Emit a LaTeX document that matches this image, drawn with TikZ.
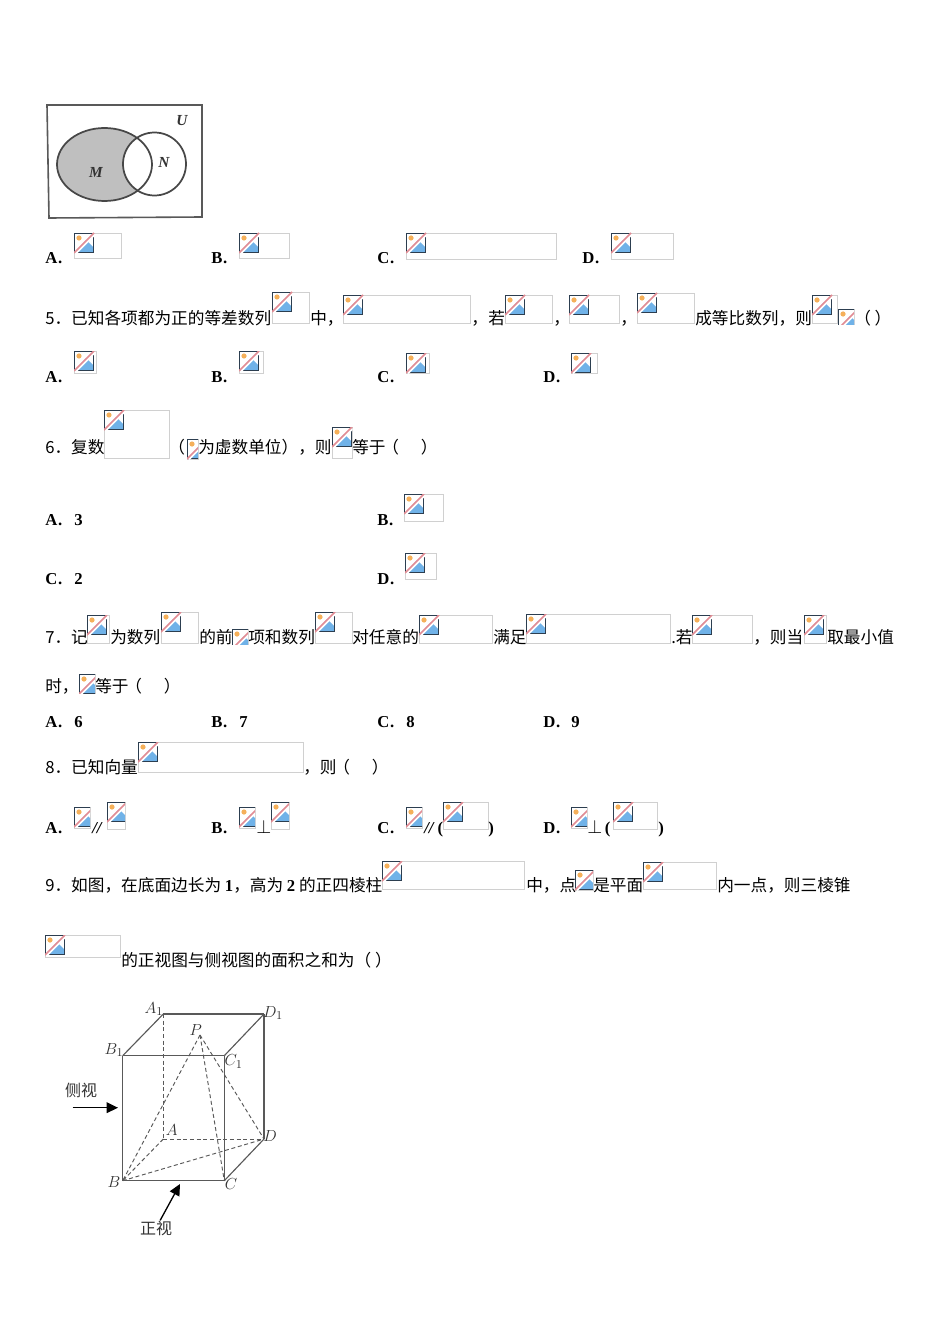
\documentclass[tikz,border=0pt]{standalone}
\usepackage{fontspec}
\setmainfont{Liberation Serif}
\newfontfamily\cjk{Noto Sans CJK SC}
\usetikzlibrary{arrows.meta}
\definecolor{iconframe}{RGB}{44,62,80}
\definecolor{iconblue}{RGB}{112,178,232}
\definecolor{iconsun}{RGB}{245,176,90}
\definecolor{iconred}{RGB}{226,140,148}
\definecolor{imgborder}{RGB}{208,208,208}
\newcommand{\numb}[1]{{\rmfamily\bfseries #1}}
\newcommand{\kuo}{{\kern-2.5pt（　\kern 4pt）}}
\newcommand{\brokenimg}[4]{
	\draw[imgborder,line width=0.7pt] (#1,#2) rectangle (#3,#4);
	\begin{scope}
		\clip (#1,#2) rectangle (#3,#4);
		\begin{scope}[shift={(#1,#2)}]
			\fill[white] (0,0) rectangle (20,20);
			\fill[iconblue] (1,19) -- (12,7) -- (19,14) -- (19,19) -- cycle;
			\fill[iconsun] (5,5) circle (2.6);
			\draw[iconframe,line width=1pt] (0.7,0.7) rectangle (19.3,19.3);
			\draw[white,line width=2.2pt] (1.5,20) -- (20,1.5);
			\draw[iconred,line width=1.3pt] (0,20) -- (20,0);
		\end{scope}
	\end{scope}
}
\tikzset{
	sentence/.style={anchor=base west,inner sep=0pt,font=\cjk\fontsize{12.5}{15}\selectfont},
	choice/.style={anchor=base west,inner sep=0pt,font=\rmfamily\bfseries\fontsize{12.5}{15}\selectfont},
	scanlabel/.style={inner sep=0pt,text=black!80,font=\bfseries\itshape\fontsize{11.5}{13}\selectfont},
	cubelabel/.style={inner sep=0pt,text=black!80,font=\fontsize{12.5}{14}\selectfont},
	scanword/.style={inner sep=0pt,text=black!80,font=\cjk\fontsize{12}{14}\selectfont},
	solidedge/.style={draw=black!65,line width=0.85pt},
	hiddenedge/.style={draw=black!65,line width=0.7pt,dash pattern=on 3pt off 2pt},
	viewarrow/.style={draw=black,line width=1pt,-{Triangle[length=8.5pt,width=8pt]}}
}
\begin{document}
\begin{tikzpicture}[x=0.75pt,y=-0.75pt]
	\useasboundingbox (0,0) rectangle (950,1344);
	\fill[white] (0,0) rectangle (950,1344);
	\foreach \xa/\ya/\xb/\yb in {
		74/233/121.5/258,239/233/289.5/258,406/233/556.5/259,611/233/673.5/259,
		272/292/309.5/323,343/295/470.5/323,505/295/552.5/323,569/295/619.5/323,637/293/694.5/323,812/295/837/323,838/309/854/324,
		74/351/96/373,239/351/263/373,406/353/429/373,571/353/597/373,
		104/410/169/458,187/439/198/459,332/427/352.5/458,
		404/494/443.5/521,405/553/436.5/579,
		87/615/109.5/643,161/612/198.5/643,232/629/248/644,315/612/352/643,419/615/492.5/643,526/614/670.5/643,692/615/752.5/643,804/615/826.5/643,
		79/674/95/693,
		138/742/303/772,
		74/807/90/828,107/802/125/829,239/807/255/828,271/802/289/829,406/807/422/828,443/802/488/829,571/807/587/828,613/802/657/829,
		382/861/524/889,575/870/593/890,643/862/716/889,
		45/935/120.5/957
	}{\brokenimg{\xa}{\ya}{\xb}{\yb}}
	\foreach \x/\y/\t [count=\i] in {
		45/324.5/{5．已知各项都为正的等差数列},310/324.5/{中，},471/324.5/{，},488/324.5/{若},553/324.5/{，},620/324.5/{，},695/324.5/{成等比数列，则},854/324.5/{（ ）},
		45/453.5/{6．复数},168/453.5/{（},198/453.5/{为虚数单位），则},352/453.5/{等于\kuo},
		45/643.5/{7．记},110/643.5/{为数列},199/643.5/{的前},248/643.5/{项和数列},352/643.5/{对任意的},493/643.5/{满足},671/643.5/{.若},753/643.5/{，则当},827/643.5/{取最小值},
		45/692.5/{时，},95/692.5/{等于\kuo},
		45/773.5/{8．已知向量},303/773.5/{，则\kuo},
		45/891.5/{9．如图，在底面边长为 \numb{1}，高为 \numb{2} 的正四棱柱},526/891.5/{中，点},593/891.5/{是平面},717/891.5/{内一点，则三棱锥},
		121/966.5/{的正视图与侧视图的面积之和为（ ）}
	}{\node[sentence] (line\i) at (\x,\y) {\t};}
	\foreach \x/\y/\t [count=\i] in {
		45/264/{A\kern.6pt.},211/264/{B\kern.6pt.},377/264/{C\kern.6pt.},582/264/{D\kern.6pt.},
		45/382/{A\kern.6pt.},211/382/{B\kern.6pt.},377/382/{C\kern.6pt.},543/382/{D\kern.6pt.},
		45/525/{A\kern.6pt.},74/525/{3},377/525/{B\kern.6pt.},45/584/{C\kern.6pt.},74/584/{2},377/584/{D\kern.6pt.},
		45/727/{A\kern.6pt.},74/727/{6},211/727/{B\kern.6pt.},239/727/{7},377/727/{C\kern.6pt.},406/727/{8},543/727/{D\kern.6pt.},571/727/{9},
		45/833/{A\kern.6pt.},92/833/{\textit{//}},211/833/{B\kern.6pt.},256/833/{{\Large$\perp$}},377/833/{C\kern.6pt.},424/833/{\textit{//}\,(},488/833/{)},543/833/{D\kern.6pt.},587/833/{{\Large$\perp$}\,(},658/833/{)}
	}{\node[choice] (opt\i) at (\x,\y) {\t};}

	\coordinate (ucorner1) at (47,105);
	\coordinate (ucorner2) at (202,105);
	\coordinate (ucorner3) at (202,217);
	\coordinate (ucorner4) at (49,218);
	\draw[black!65,line width=1.2pt] (ucorner1) -- (ucorner2) -- (ucorner3) -- (ucorner4) -- cycle;
	\fill[black!25] (104.5,164.5) ellipse (47.5 and 36.5);
	\fill[white] (154.5,164) circle (31.5);
	\draw[black!72,line width=1.3pt] (104.5,164.5) ellipse (47.5 and 36.5);
	\draw[black!72,line width=1.3pt] (154.5,164) circle (31.5);
	\node[scanlabel] (setU) at (182,121) {U};
	\node[scanlabel] (setN) at (164,162) {N};
	\node[scanlabel] (setM) at (96,172) {M};

	\coordinate (A1) at (163.3,1014);
	\coordinate (D1) at (264,1014);
	\coordinate (B1) at (122.7,1055.7);
	\coordinate (C1) at (224.3,1055.7);
	\coordinate (A) at (163.3,1139);
	\coordinate (D) at (264,1139);
	\coordinate (B) at (122.7,1180.7);
	\coordinate (C) at (224.3,1180.7);
	\coordinate (P) at (200,1035);
	\draw[solidedge] (A1) -- (D1);
	\draw[solidedge] (A1) -- (B1);
	\draw[solidedge] (B1) -- (C1);
	\draw[solidedge] (C1) -- (D1);
	\draw[solidedge] (B1) -- (B);
	\draw[solidedge] (C1) -- (C);
	\draw[solidedge] (D1) -- (D);
	\draw[solidedge] (B) -- (C);
	\draw[solidedge] (C) -- (D);
	\draw[hiddenedge] (A1) -- (A);
	\draw[hiddenedge] (A) -- (D);
	\draw[hiddenedge] (A) -- (B);
	\draw[hiddenedge] (B) -- (D);
	\draw[hiddenedge] (P) -- (B);
	\draw[hiddenedge] (P) -- (C);
	\draw[hiddenedge] (P) -- (D);
	\node[cubelabel] (labelA1) at (154,1009) {$A_{1}$};
	\node[cubelabel] (labelD1) at (273,1013) {$D_{1}$};
	\node[cubelabel] (labelB1) at (114,1050) {$B_{1}$};
	\node[cubelabel] (labelC1) at (233.7,1061.7) {$C_{1}$};
	\node[cubelabel] (labelP) at (195.7,1030) {$P$};
	\node[cubelabel] (labelA) at (171.7,1130) {$A$};
	\node[cubelabel] (labelD) at (270,1135.7) {$D$};
	\node[cubelabel] (labelB) at (114,1181.7) {$B$};
	\node[cubelabel] (labelC) at (231,1184) {$C$};
	\node[scanword] (side) at (81,1090) {侧视};
	\node[scanword] (front) at (156,1228) {正视};
	\coordinate (sidefrom) at (72.7,1107.7);
	\coordinate (sideto) at (118,1107.7);
	\coordinate (frontto) at (180,1184);
	\draw[viewarrow] (sidefrom) -- (sideto);
	\draw[viewarrow] (front) -- (frontto);
\end{tikzpicture}
\end{document}
